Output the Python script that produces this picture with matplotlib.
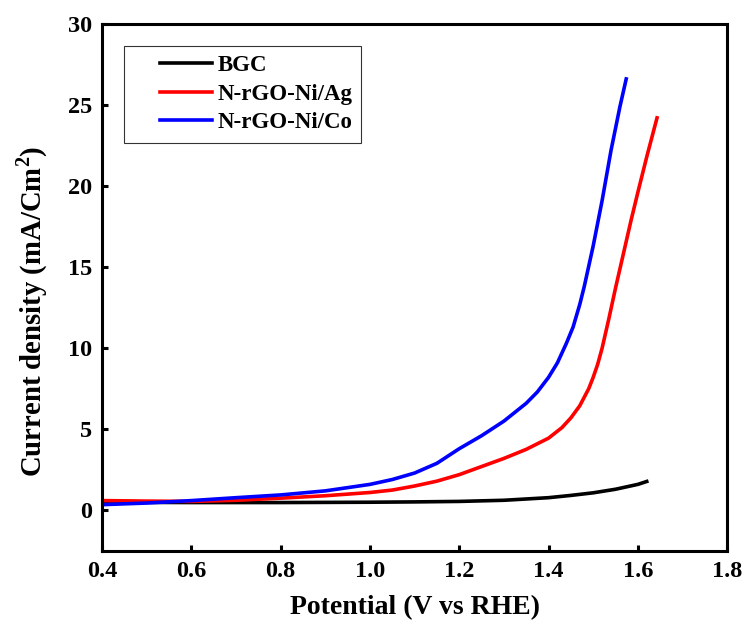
import matplotlib
matplotlib.use("Agg")
import matplotlib.pyplot as plt
from matplotlib.legend_handler import HandlerLine2D
import numpy as np

# Data
bgc_x = [0.4, 0.6, 0.8, 1.0, 1.1, 1.2, 1.3, 1.4, 1.45, 1.5, 1.55, 1.6, 1.62]
bgc_y = [0.5, 0.48, 0.48, 0.5, 0.52, 0.55, 0.62, 0.78, 0.92, 1.08, 1.3, 1.6, 1.78]

ag_x = [0.4, 0.5, 0.6, 0.7, 0.8, 0.9, 1.0, 1.05, 1.1, 1.15, 1.2, 1.25, 1.3,
        1.35, 1.4, 1.43, 1.45, 1.47, 1.49, 1.5, 1.51, 1.52, 1.535, 1.55,
        1.57, 1.585, 1.6, 1.62, 1.643]
ag_y = [0.6, 0.57, 0.55, 0.62, 0.75, 0.9, 1.1, 1.25, 1.5, 1.8, 2.2, 2.7, 3.2,
        3.76, 4.45, 5.1, 5.7, 6.45, 7.5, 8.2, 9.0, 10.0, 11.8, 13.7,
        16.1, 17.9, 19.6, 21.8, 24.2]

co_x = [0.4, 0.5, 0.6, 0.7, 0.8, 0.9, 1.0, 1.05, 1.1, 1.15, 1.2, 1.25, 1.3,
        1.35, 1.375, 1.4, 1.42, 1.44, 1.455, 1.47, 1.48, 1.5, 1.52, 1.54,
        1.56, 1.574]
co_y = [0.35, 0.45, 0.6, 0.78, 0.95, 1.2, 1.6, 1.9, 2.3, 2.9, 3.8, 4.6, 5.5,
        6.6, 7.3, 8.2, 9.1, 10.3, 11.3, 12.7, 13.8, 16.3, 19.1, 22.2,
        24.9, 26.6]

x_ticks = [0.4, 0.6, 0.8, 1.0, 1.2, 1.4, 1.6, 1.8]
y_ticks = [0, 5, 10, 15, 20, 25, 30]


# legend line sits in the right part of the handle box (leaves left margin)
class RightLine(HandlerLine2D):
    def get_xdata(self, legend, xdescent, ydescent, width, height, fontsize):
        xd = np.array([-xdescent + 0.34 * width, -xdescent + width])
        return xd, xd


plt.rcParams['font.family'] = ['Liberation Serif', 'DejaVu Serif']
plt.rcParams['font.weight'] = 'bold'
plt.rcParams['mathtext.fontset'] = 'custom'
plt.rcParams['mathtext.rm'] = 'Liberation Serif:bold'
plt.rcParams['mathtext.bf'] = 'Liberation Serif:bold'

fig = plt.figure(figsize=(7.45, 6.26), dpi=100)
ax = fig.add_axes([0.137, 0.120, 0.839, 0.842])

ax.plot(bgc_x, bgc_y, color='black', lw=2.6, label='BGC')
ax.plot(ag_x, ag_y, color='#ff0000', lw=2.6, label='N-rGO-Ni/Ag')
ax.plot(co_x, co_y, color='#0000ff', lw=2.6, label='N-rGO-Ni/Co')

ax.set_xlim(0.4, 1.8)
ax.set_ylim(-2.5, 30)
ax.set_xticks(x_ticks)
ax.set_xticklabels([f"{t:.1f}" for t in x_ticks])
ax.set_yticks(y_ticks)
ax.tick_params(direction='in', length=4, width=2.2, labelsize=17.5, pad=7)

for s in ax.spines.values():
    s.set_linewidth(2.2)

ax.set_xlabel('Potential (V vs RHE)', fontsize=20, fontweight='bold', labelpad=10)
ax.set_ylabel(r'Current density (mA/Cm$^{2}$)', fontsize=20.7, fontweight='bold')
ax.yaxis.set_label_coords(-0.084, 0.455)

leg = ax.legend(loc='upper left', bbox_to_anchor=(0.035, 0.958), fontsize=16.5,
                frameon=True, fancybox=False, handlelength=3.45, borderpad=0.4,
                labelspacing=0.33, handletextpad=0.22, borderaxespad=0,
                handler_map={matplotlib.lines.Line2D: RightLine()})
leg.get_frame().set_edgecolor('black')
leg.get_frame().set_linewidth(0.8)

fig.savefig('out.png', dpi=100)
